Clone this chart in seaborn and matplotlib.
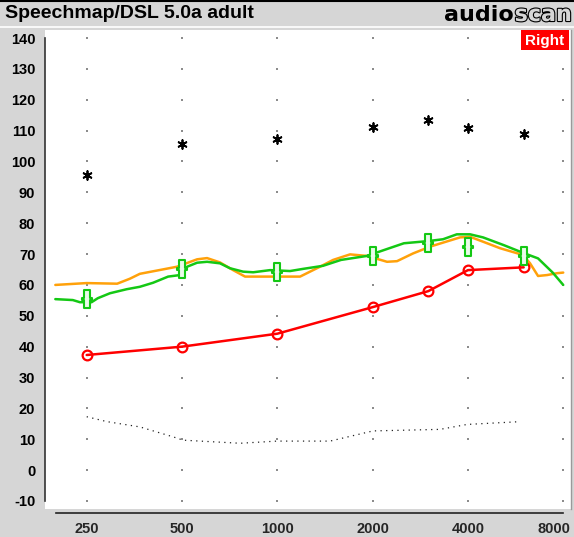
import numpy as np
import pandas as pd
import matplotlib
matplotlib.use("Agg")
import matplotlib.pyplot as plt
import matplotlib.transforms as mtransforms
import seaborn as sns
from matplotlib.path import Path
from matplotlib.patches import Rectangle
from matplotlib.lines import Line2D
import matplotlib.patheffects as pe

# ---------------- data ----------------
title = "Speechmap/DSL 5.0a adult"
ear_label = "Right"

test_freqs = [250, 500, 1000, 2000, 3000, 4000, 6000]
ucl_db = [95.6, 105.7, 107.2, 111.1, 113.5, 110.8, 108.8]          # asterisks
thresh_db = [37.3, 40.0, 44.2, 52.8, 58.0, 64.8, 65.7]              # red circles
target_db = [55.3, 65.1, 64.1, 69.5, 73.5, 72.2, 69.5]              # green crosses

orange_f = [199, 250, 312, 342, 368, 482, 558, 600, 659, 725, 791, 1097, 1180,
            1364, 1500, 1697, 1920, 2221, 2388, 2683, 3036, 3337, 3777, 4062,
            4466, 5051, 5972, 6285, 6661, 7113, 7648, 8000]
orange_db = [60.0, 60.6, 60.4, 62.0, 63.6, 65.9, 68.3, 68.7, 67.3, 64.8, 62.7,
             62.7, 62.7, 65.9, 68.1, 69.9, 69.4, 67.5, 67.7, 70.2, 72.4, 73.7,
             75.4, 75.6, 74.0, 71.9, 69.7, 67.0, 62.9, 63.2, 63.8, 64.0]

green_f = [199, 226, 238, 259, 271, 296, 334, 368, 405, 452, 493, 519, 558, 600,
           659, 709, 780, 839, 949, 1097, 1206, 1395, 1589, 1920, 2172, 2511,
           2990, 3337, 3690, 4062, 4466, 5190, 5972, 6661, 7411, 8000]
green_db = [55.4, 55.1, 54.4, 54.4, 55.7, 57.3, 58.6, 59.4, 60.7, 62.7, 63.2,
            65.9, 67.2, 67.5, 67.0, 65.4, 64.3, 64.1, 64.8, 64.5, 65.2, 66.2,
            68.1, 69.4, 71.3, 73.5, 74.2, 74.8, 76.4, 76.4, 75.4, 72.9, 70.4,
            68.6, 64.0, 60.0]

dotted_f = [250, 290, 368, 468, 504, 763, 998, 1467, 1825, 2006, 3265, 3977, 5843]
dotted_db = [17.3, 15.7, 14.0, 10.8, 9.7, 8.7, 9.4, 9.4, 11.7, 12.7, 13.2, 14.8, 15.7]

major_ticks = [250, 500, 1000, 2000, 4000, 8000]
major_labels = ["250", "500", "1000", "2000", "4000", "8000"]
minor_ticks = [200, 315, 400, 630, 800, 1250, 1600, 2500, 3150, 5000, 6300]
y_ticks = list(range(-10, 141, 10))
grid_freqs = [250, 500, 1000, 2000, 4000, 8000]

# ---------------- style ----------------
BG = "#d6d6d6"
ORANGE = "#ffa10a"
GREEN = "#14c814"
RED = "#ff0000"

sns.set_style("white")
plt.rcParams["font.family"] = ["Liberation Sans", "DejaVu Sans"]

W, H = 574, 537
fig = plt.figure(figsize=(W / 100, H / 100), dpi=100, facecolor=BG)
ax = fig.add_axes([45 / W, 1 - 509 / H, 526 / W, 479 / H])
ax.set_facecolor("white")
ax.set_xscale("log")
ax.set_xlim(184.6, 8465)
ax.set_ylim(-12.6, 142.6)

# dotted grid at intersections
gx, gy = np.meshgrid(grid_freqs, y_ticks)
ax.scatter(gx.ravel(), gy.ravel(), s=1.2, color="#8c8c8c", marker="s",
           linewidths=0, zorder=1)

df_or = pd.DataFrame({"f": orange_f, "db": orange_db})
df_gr = pd.DataFrame({"f": green_f, "db": green_db})
df_dt = pd.DataFrame({"f": dotted_f, "db": dotted_db})
df_th = pd.DataFrame({"f": test_freqs, "db": thresh_db})
df_tg = pd.DataFrame({"f": test_freqs, "db": target_db})
df_uc = pd.DataFrame({"f": test_freqs, "db": ucl_db})

sns.lineplot(data=df_dt, x="f", y="db", ax=ax, color="#222222", lw=0.9,
             linestyle=(0, (1.0, 3.5)), zorder=2)
sns.lineplot(data=df_or, x="f", y="db", ax=ax, color=ORANGE, lw=1.8, zorder=3)
sns.lineplot(data=df_gr, x="f", y="db", ax=ax, color=GREEN, lw=1.8, zorder=4)
sns.lineplot(data=df_th, x="f", y="db", ax=ax, color=RED, lw=1.8, zorder=5,
             marker="o", markersize=7, markerfacecolor="none",
             markeredgecolor=RED, markeredgewidth=1.6)

# target cross marker (tall plus)
vw, vh, hw, hh = 0.16, 0.5, 0.26, 0.07
verts = [(-vw, vh), (vw, vh), (vw, hh), (hw, hh), (hw, -hh), (vw, -hh),
         (vw, -vh), (-vw, -vh), (-vw, -hh), (-hw, -hh), (-hw, hh), (-vw, hh),
         (-vw, vh)]
cross = Path(verts, closed=True)
sns.scatterplot(data=df_tg, x="f", y="db", ax=ax, marker=cross, s=185,
                facecolor="#eafbea", edgecolor=GREEN, linewidth=1.5, zorder=6)

sns.scatterplot(data=df_uc, x="f", y="db", ax=ax, marker=(6, 2, 0), s=40,
                color="black", edgecolor="black", linewidth=1.3, zorder=6)

# axes styling
ax.spines["top"].set_visible(False)
ax.spines["right"].set_color("#9a9a9a")
ax.spines["right"].set_linewidth(1.0)
ax.spines["left"].set_color("#333333")
ax.spines["left"].set_linewidth(1.2)
ax.spines["left"].set_bounds(-10, 140)
ax.spines["bottom"].set_position(("outward", 3))
ax.spines["bottom"].set_bounds(200, 8000)
ax.spines["bottom"].set_color("#222222")
ax.spines["bottom"].set_linewidth(1.2)

ax.set_yticks(y_ticks)
ax.set_yticklabels([str(v) for v in y_ticks], fontsize=10.5, fontweight="bold")
ax.tick_params(axis="y", direction="out", length=5, width=1.1, color="#333333",
               pad=2, labelcolor="black")
ax.xaxis.set_major_locator(matplotlib.ticker.FixedLocator(major_ticks))
ax.xaxis.set_minor_locator(matplotlib.ticker.FixedLocator(minor_ticks))
ax.xaxis.set_minor_formatter(matplotlib.ticker.NullFormatter())
ax.set_xticklabels(major_labels, fontsize=10.5, fontweight="bold")
ax.tick_params(axis="x", which="major", direction="out", length=4.5, width=1.1,
               color="#222222", pad=2)
ax.tick_params(axis="x", which="minor", direction="out", length=2.5, width=1.1,
               color="#222222")
ax.set_xlabel("")
ax.set_ylabel("")
# keep the last label inside the picture
last = ax.get_xticklabels()[-1]
last.set_transform(last.get_transform() +
                   mtransforms.ScaledTranslation(-9 / 100, 0, fig.dpi_scale_trans))

# "Right" tag
ax.add_patch(Rectangle((0.905, 0.958), 0.091, 0.041, transform=ax.transAxes,
                       facecolor=RED, edgecolor="none", zorder=7, clip_on=False))
ax.text(0.9505, 0.978, ear_label, transform=ax.transAxes, ha="center",
        va="center", color="white", fontsize=11, fontweight="bold", zorder=8)

# title bar
fig.add_artist(Line2D([0, 1], [1 - 1 / H, 1 - 1 / H], color="black", lw=1.5,
                      transform=fig.transFigure))
fig.add_artist(Line2D([0, 1], [1 - 27 / H, 1 - 27 / H], color="white", lw=1.2,
                      transform=fig.transFigure))
fig.text(5 / W, 1 - 14 / H, title, ha="left", va="center", fontsize=14,
         fontweight="bold", color="black")

t_scan = fig.text(572 / W, 1 - 15 / H, "scan", ha="right", va="center",
                  fontsize=16, fontweight="bold", color=BG,
                  family="DejaVu Sans",
                  path_effects=[pe.withStroke(linewidth=1.6, foreground="black")])
fig.canvas.draw()
bb = t_scan.get_window_extent(fig.canvas.get_renderer())
fig.text(bb.x0 / W - 1 / W, 1 - 15 / H, "audio", ha="right", va="center",
         fontsize=16, fontweight="bold", color="black", family="DejaVu Sans")

fig.savefig("out.png", dpi=100, facecolor=BG)
